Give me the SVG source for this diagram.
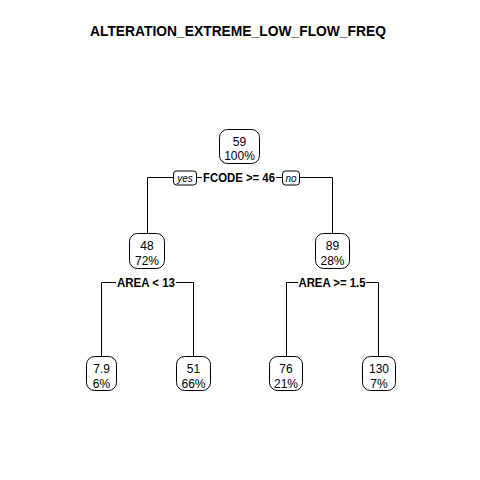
<svg xmlns="http://www.w3.org/2000/svg" width="480" height="480" viewBox="0 0 480 480">
<style>
.bg{fill:#fff}
.box{fill:#fff;stroke:#000;stroke-width:1}
.wb{fill:#fff;stroke:none}
.t{font-family:"Liberation Sans",Arial,sans-serif;font-size:12px;fill:#000;text-anchor:middle}
.s{font-family:"Liberation Sans",Arial,sans-serif;font-size:12px;font-weight:bold;fill:#000;text-anchor:middle}
.yn{font-family:"Liberation Sans",Arial,sans-serif;font-size:10px;font-style:italic;fill:#000;text-anchor:middle}
.title{font-family:"Liberation Sans",Arial,sans-serif;font-size:13.8px;font-weight:bold;fill:#000;text-anchor:middle}
.c{fill:none;stroke:#000;stroke-width:1}
</style>
<rect class="bg" x="0" y="0" width="480" height="480"/>
<text class="title" x="238" y="36" textLength="296" lengthAdjust="spacingAndGlyphs">ALTERATION_EXTREME_LOW_FLOW_FREQ</text>
<g id="connectors">
<path class="c" d="M239.5,177.5 H147.5 V233.5"/>
<path class="c" d="M239.5,177.5 H332.5 V233.5"/>
<path class="c" d="M146,282.5 H101.5 V356.5"/>
<path class="c" d="M146,282.5 H193.5 V356.5"/>
<path class="c" d="M332,282.5 H286.5 V356.5"/>
<path class="c" d="M332,282.5 H378.5 V356.5"/>
</g>
<g id="split1">
<rect class="box" x="173.5" y="171" width="23" height="14" rx="3"/>
<text class="yn" x="185" y="182">yes</text>
<rect class="box" x="282.5" y="171" width="17" height="14" rx="3"/>
<text class="yn" x="291" y="182">no</text>
<rect class="wb" x="202" y="171" width="74" height="13"/>
<text class="s" x="239" y="182" textLength="72" lengthAdjust="spacingAndGlyphs">FCODE &gt;= 46</text>
</g>
<g id="split2">
<rect class="wb" x="116" y="276" width="60" height="13"/>
<text class="s" x="146" y="287" textLength="58" lengthAdjust="spacingAndGlyphs">AREA &lt; 13</text>
</g>
<g id="split3">
<rect class="wb" x="298" y="276" width="68" height="13"/>
<text class="s" x="332" y="287" textLength="67" lengthAdjust="spacingAndGlyphs">AREA &gt;= 1.5</text>
</g>
<g id="n1">
<rect class="box" x="219.5" y="129.5" width="40" height="34" rx="8"/>
<text class="t" x="239.5" y="146">59</text>
<text class="t" x="239.5" y="160">100%</text>
</g>
<g id="n2">
<rect class="box" x="129.5" y="233.5" width="35" height="35" rx="8"/>
<text class="t" x="147" y="250">48</text>
<text class="t" x="147" y="265">72%</text>
</g>
<g id="n3">
<rect class="box" x="315.5" y="233.5" width="34" height="35" rx="8"/>
<text class="t" x="332.5" y="250">89</text>
<text class="t" x="332.5" y="265">28%</text>
</g>
<g id="n4">
<rect class="box" x="86.5" y="356.5" width="30" height="34" rx="8"/>
<text class="t" x="101.5" y="373">7.9</text>
<text class="t" x="101.5" y="388">6%</text>
</g>
<g id="n5">
<rect class="box" x="176.5" y="356.5" width="34" height="34" rx="8"/>
<text class="t" x="193.5" y="373">51</text>
<text class="t" x="193.5" y="388">66%</text>
</g>
<g id="n6">
<rect class="box" x="269.5" y="356.5" width="33" height="34" rx="8"/>
<text class="t" x="286" y="373">76</text>
<text class="t" x="286" y="388">21%</text>
</g>
<g id="n7">
<rect class="box" x="362.5" y="356.5" width="33" height="34" rx="8"/>
<text class="t" x="379" y="373">130</text>
<text class="t" x="379" y="388">7%</text>
</g>
</svg>
